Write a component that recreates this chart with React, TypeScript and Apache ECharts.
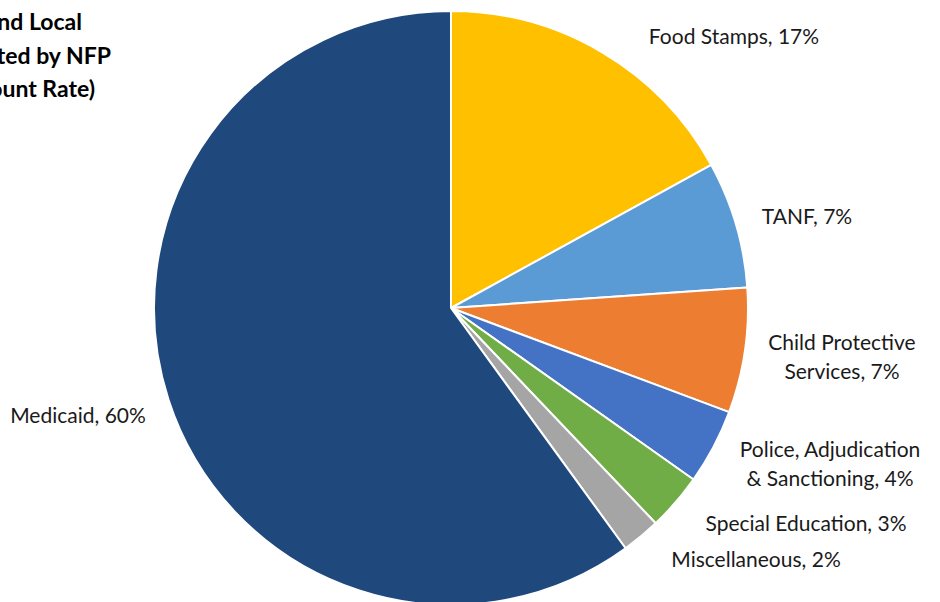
import React, { useEffect, useRef } from "react";
import * as echarts from "echarts";

const categories = [
  "Food Stamps",
  "TANF",
  "Child Protective\nServices",
  "Police, Adjudication\n& Sanctioning",
  "Special Education",
  "Miscellaneous",
  "Medicaid",
];
const values = [17.0, 6.9, 6.8, 4.1, 3.1, 2.1, 60.0];
const colors = ["#FFC000", "#5B9BD5", "#ED7D31", "#4472C4", "#70AD47", "#A5A5A5", "#1F497D"];
const titleLines = [
  "Government Savings to Federal, State and Local",
  "Government Programs Generated by NFP",
  "(at 3% Discount Rate)",
];
// label centres (layout only)
const labelPos: [number, number][] = [
  [734, 35],
  [807, 215],
  [842, 356],
  [830, 463],
  [806, 522],
  [756, 558],
  [78, 414],
];
const titleRight = [82, 111, 95];

export default function App() {
  const ref = useRef<HTMLDivElement>(null);
  useEffect(() => {
    if (!ref.current) return;
    const chart = echarts.init(ref.current, undefined, { renderer: "svg" });
    const total = values.reduce((a, b) => a + b, 0);
    chart.setOption({
      animation: false,
      backgroundColor: "#ffffff",
      graphic: titleLines.map((t, i) => ({
        type: "text",
        x: titleRight[i],
        y: 21 + i * 33.5,
        style: {
          text: t,
          align: "right",
          verticalAlign: "middle",
          font: "bold 23px Lato, 'Noto Sans', sans-serif",
          fill: "#000",
        },
      })),
      series: [
        {
          type: "pie",
          center: [451, 308],
          radius: 297,
          startAngle: 90,
          clockwise: true,
          avoidLabelOverlap: false,
          data: categories.map((c, i) => ({
            name: c,
            value: values[i],
            itemStyle: { color: colors[i] },
          })),
          itemStyle: { borderColor: "#ffffff", borderWidth: 2 },
          label: {
            show: true,
            position: "outside",
            formatter: (p: any) => `${p.name}, ${Math.round((p.value / total) * 100)}%`,
            fontFamily: "Lato, 'Noto Sans', sans-serif",
            fontSize: 21,
            lineHeight: 29,
            color: "#1a1a1a",
            align: "center",
          },
          labelLine: { show: false },
          labelLayout: (p: any) => ({
            x: labelPos[p.dataIndex][0],
            y: labelPos[p.dataIndex][1],
            align: "center",
            verticalAlign: "middle",
          }),
          emphasis: { disabled: true },
        },
      ],
    });
    return () => chart.dispose();
  }, []);
  return (
    <div
      ref={ref}
      style={{ position: "fixed", left: 0, top: 0, width: 940, height: 602 }}
    />
  );
}
